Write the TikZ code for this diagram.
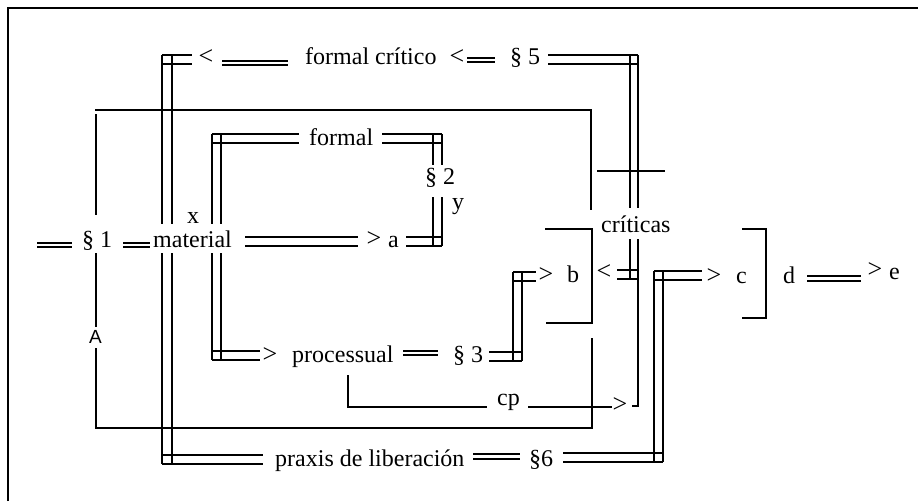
\documentclass[tikz,border=0pt]{standalone}
\usepackage{fontspec}
\setmainfont{Liberation Serif}
\newfontfamily\Asans{Liberation Sans}
\begin{document}
\begin{tikzpicture}[x=1pt,y=-1pt,
  ln/.style={line width=1.1pt, line cap=butt},
  txt/.style={inner sep=0pt, anchor=base west, font=\fontsize{24}{28}\selectfont},
  sym/.style={inner sep=0pt, anchor=center, font=\fontsize{26}{30}\selectfont}]
\useasboundingbox (0,0) rectangle (918,501);
% frame
\draw[ln] (8,501) -- (8,8) -- (918,8);
% ---- wide double connectors ----
% formal critico / praxis loop (left)
\draw[ln] (162,55) -- (192,55) (162,64) -- (192,64);
\draw[ln] (162,55) -- (162,224) (172,55) -- (172,224);
\draw[ln] (162,253) -- (162,464) (172,253) -- (172,464);
\draw[ln] (162,455) -- (263,455) (162,464) -- (263,464);
% section 5 to criticas
\draw[ln] (548,55) -- (638,55) (548,64) -- (638,64);
\draw[ln] (630,55) -- (630,208) (638,55) -- (638,208);
\draw[ln] (630,239) -- (630,279) (638,239) -- (638,406) -- (632,406);
\draw[ln] (617,270) -- (638,270) (617,279) -- (638,279);
% formal loop
\draw[ln] (212,134) -- (299,134) (212,143) -- (299,143);
\draw[ln] (382,134) -- (442,134) (382,143) -- (442,143);
\draw[ln] (212,134) -- (212,224) (221,134) -- (221,224);
\draw[ln] (212,253) -- (212,360) (221,253) -- (221,360);
\draw[ln] (212,351) -- (260,351) (212,360) -- (260,360);
\draw[ln] (433,134) -- (433,165) (442,134) -- (442,165);
\draw[ln] (433,197) -- (433,246) (442,197) -- (442,246);
\draw[ln] (245,237) -- (358,237) (245,246) -- (358,246);
\draw[ln] (406,237) -- (442,237) (406,246) -- (442,246);
% section 3 to b
\draw[ln] (489,352) -- (522,352) (489,361) -- (522,361);
\draw[ln] (513,272) -- (513,361) (522,272) -- (522,361);
\draw[ln] (513,272) -- (536,272) (513,281) -- (536,281);
% section 6 to c
\draw[ln] (563,453) -- (663,453) (563,462) -- (663,462);
\draw[ln] (654,271) -- (654,462) (663,271) -- (663,462);
\draw[ln] (654,271) -- (702,271) (654,280) -- (702,280);
% ---- short double marks ----
\draw[ln] (222,61) -- (288,61) (222,65) -- (288,65);
\draw[ln] (467,58) -- (495,58) (467,62) -- (495,62);
\draw[ln] (37,243) -- (72,243) (37,247) -- (72,247);
\draw[ln] (123,243) -- (150,243) (123,247) -- (150,247);
\draw[ln] (403,351) -- (438,351) (403,355) -- (438,355);
\draw[ln] (473,454) -- (520,454) (473,459) -- (520,459);
\draw[ln] (807,276) -- (861,276) (807,281) -- (861,281);
% ---- single lines ----
\draw[ln] (95,110) -- (591,110) -- (591,210);
\draw[ln] (96,114) -- (96,215);
\draw[ln] (96,253) -- (96,327);
\draw[ln] (96,348) -- (96,428) -- (592,428) -- (592,338);
\draw[ln] (597,171) -- (665,171);
\draw[ln] (545,229) -- (592,229) -- (592,323) -- (546,323);
\draw[ln] (742,229) -- (766,229) -- (766,318) -- (742,318);
\draw[ln] (348,375) -- (348,407) -- (487,407);
\draw[ln] (528,407) -- (612,407);
% ---- texts ----
\node[sym] (lt1) at (206,57) {<};
\node[txt] (fc) at (305,64) {formal crítico};
\node[sym] (lt2) at (457,57) {<};
\node[txt] (s5) at (510,64) {§ 5};
\node[txt] (fo) at (309,145) {formal};
\node[txt] (s2) at (425,184) {§ 2};
\node[txt] (yy) at (452,209) {y};
\node[txt] (xx) at (187,223) {x};
\node[txt] (s1) at (82,247) {§ 1};
\node[txt] (mat) at (153,247) {material};
\node[sym] (gta) at (374,239) {>};
\node[txt] (a) at (388,247) {a};
\node[txt] (cr) at (601,232) {críticas};
\node[sym] (gtb) at (546,275) {>};
\node[txt] (b) at (567,282) {b};
\node[sym] (ltb) at (604,272) {<};
\node[sym] (gtc) at (714,276) {>};
\node[txt] (c) at (736,283) {c};
\node[txt] (d) at (783,283) {d};
\node[sym] (gte) at (875,270) {>};
\node[txt] (e) at (889,279) {e};
\node[inner sep=0pt, anchor=base, font=\Asans\fontsize{19}{22}\selectfont] (A) at (95.5,343) {A};
\node[sym] (gtp) at (270,355) {>};
\node[txt] (pr) at (292,362) {processual};
\node[txt] (s3) at (453,362) {§ 3};
\node[txt] (cp) at (497,405) {cp};
\node[sym] (gtcp) at (620,405) {>};
\node[txt] (px) at (275,466) {praxis de liberación};
\node[txt] (s6) at (529,466) {§6};
\end{tikzpicture}
\end{document}
